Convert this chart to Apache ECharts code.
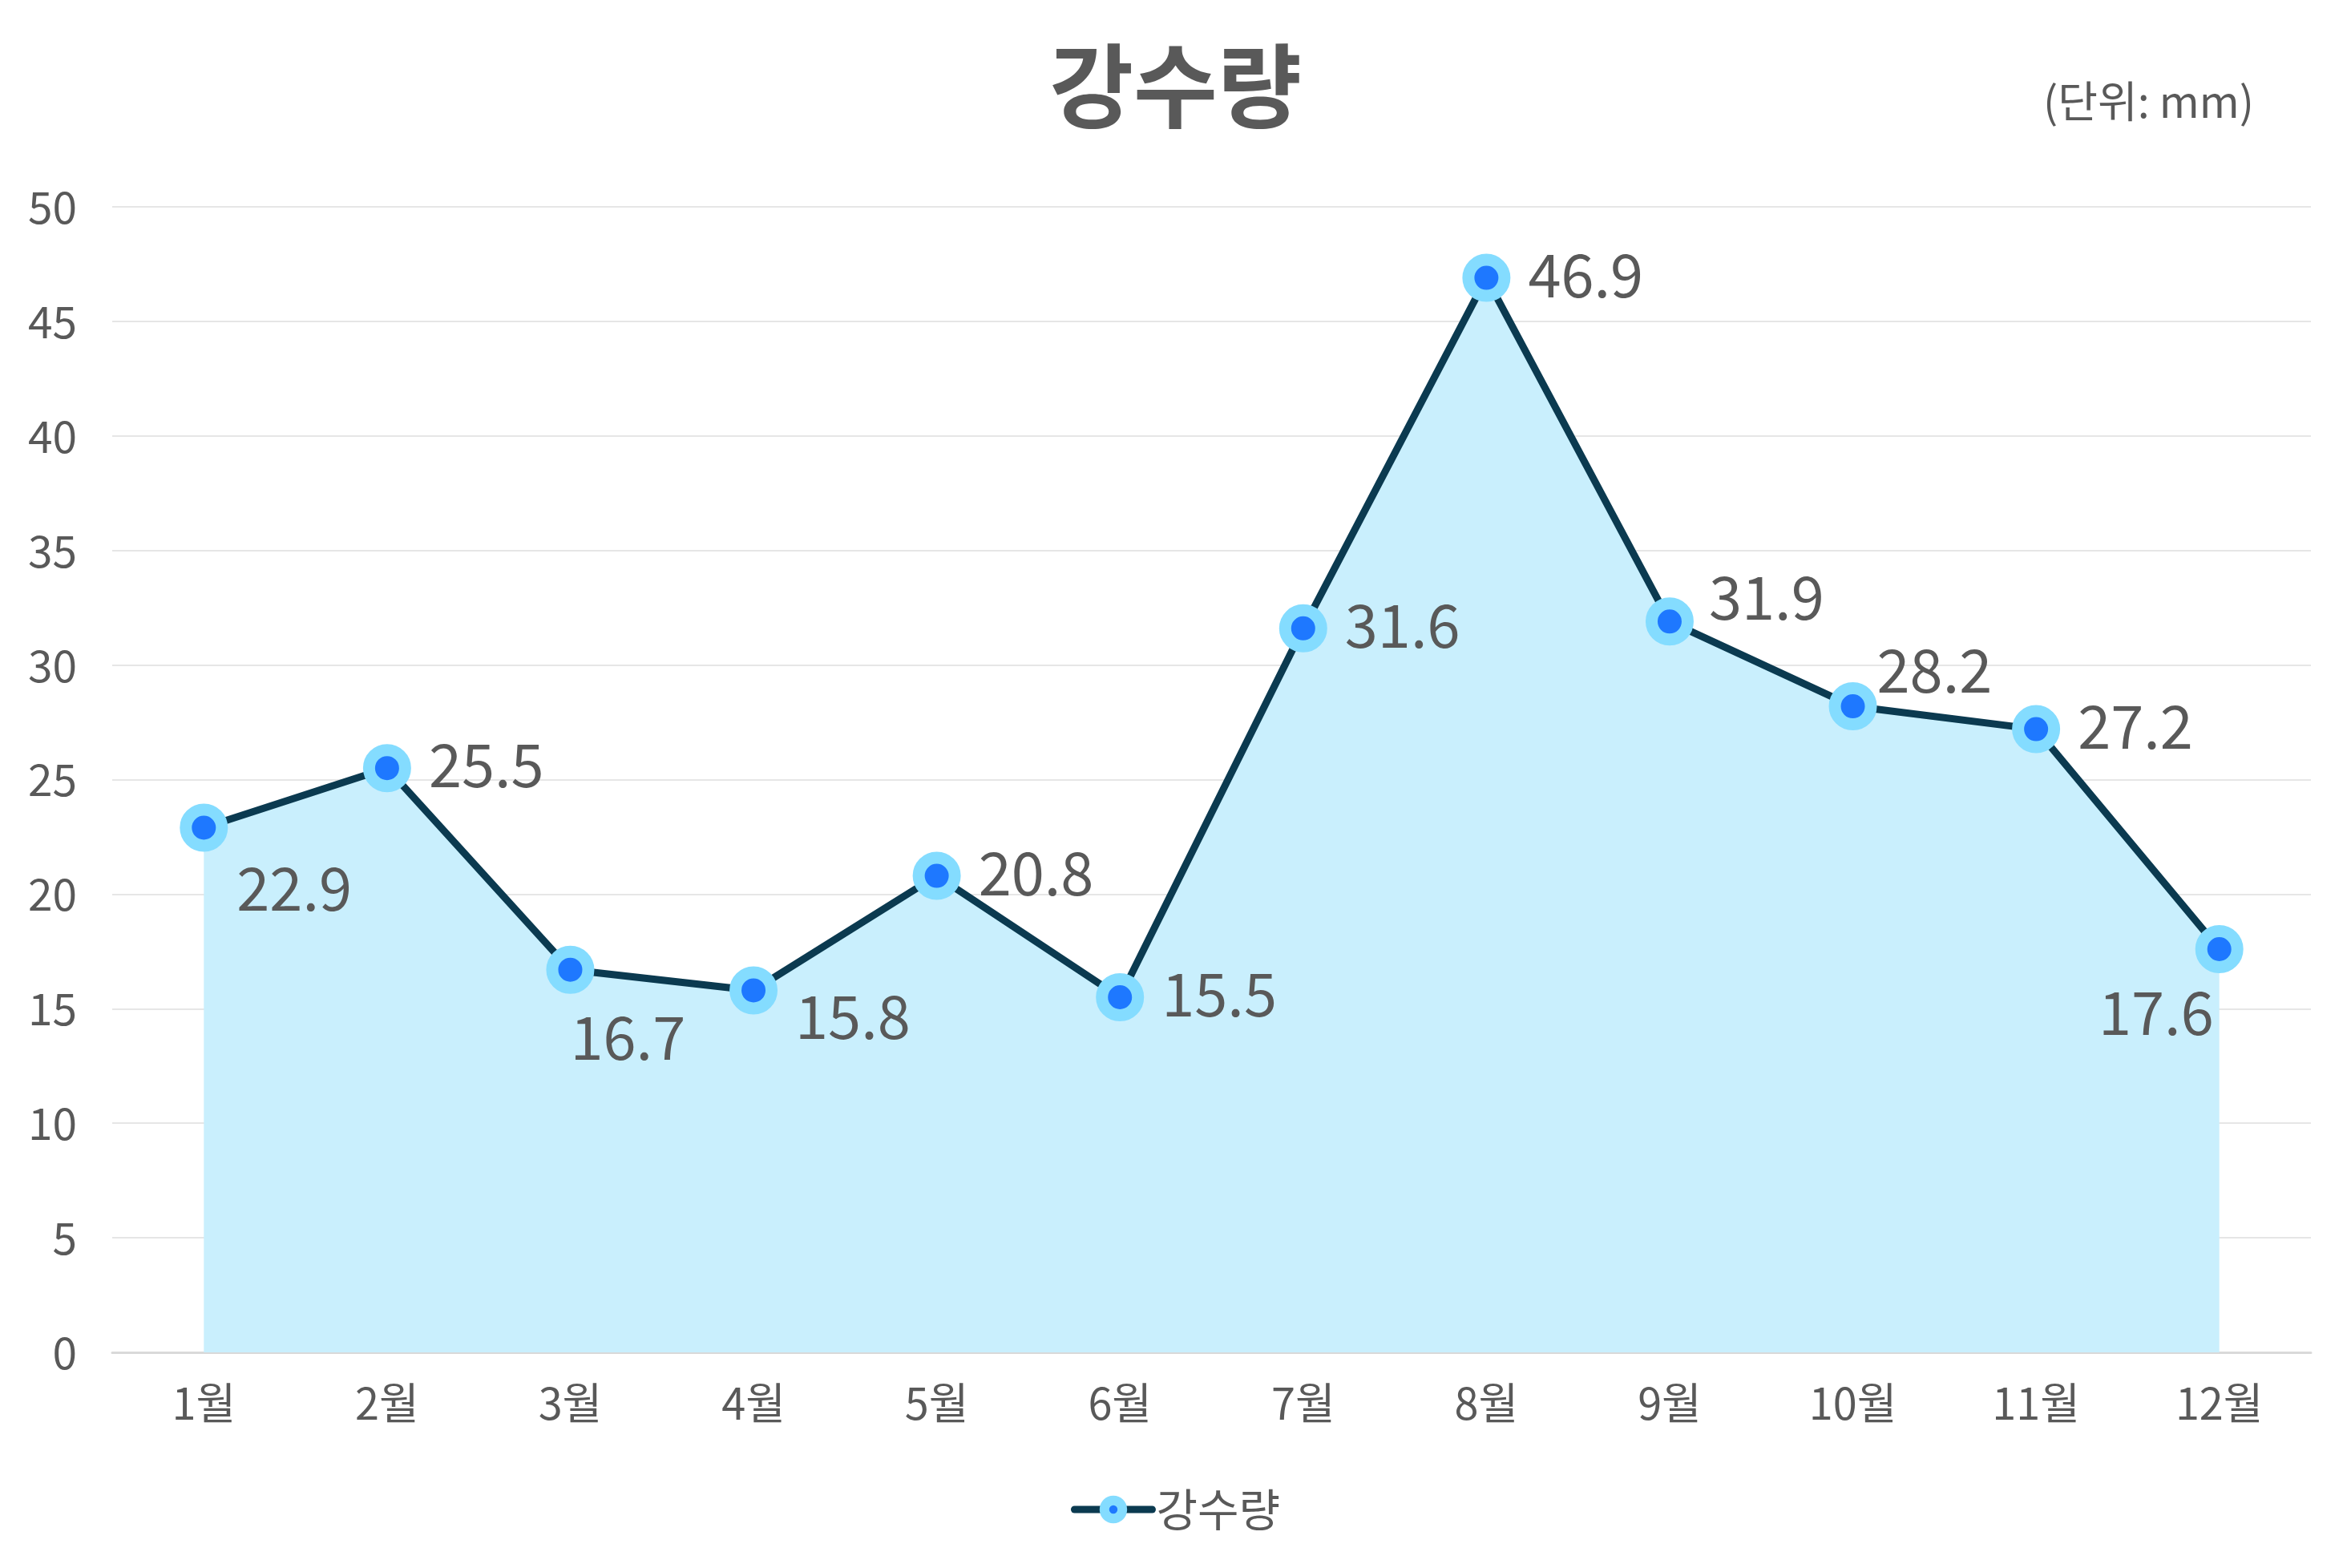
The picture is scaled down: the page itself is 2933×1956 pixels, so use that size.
<!DOCTYPE html>
<html>
<head>
<meta charset="utf-8">
<script src="https://cdn.jsdelivr.net/npm/echarts@6/dist/echarts.min.js"></script>
<style>
  html, body { margin: 0; padding: 0; background: #fff; }
  #chart { width: 2933px; height: 1956px; }
</style>
</head>
<body>
<div id="chart"></div>
<script>
// 데이터
const months = ['1월', '2월', '3월', '4월', '5월', '6월', '7월', '8월', '9월', '10월', '11월', '12월']
const rainfall = [22.9, 25.5, 16.7, 15.8, 20.8, 15.5, 31.6, 46.9, 31.9, 28.2, 27.2, 17.6]
const seriesName = '강수량'
const titleText = '강수량'
const unitText = '(단위: mm)'

const font = 'Noto Sans CJK KR'
const textColor = '#595959'

// 라벨 위치 (기본: 오른쪽)
const labelTweaks = {
  0: { offset: [-11, 75] },
  2: { offset: [-52, 84] },
  3: { offset: [0, 32] },
  8: { offset: [-3, -30] },
  9: { offset: [-22, -45] },
  11: { position: 'left', offset: [45, 79] }
}

const chart = echarts.init(document.getElementById('chart'))

const seriesData = rainfall.map((v, i) => {
  const item = { value: v }
  if (labelTweaks[i]) {
    item.label = labelTweaks[i]
  }
  return item
})

chart.setOption({
  backgroundColor: '#ffffff',
  animation: false,
  textStyle: { fontFamily: font },
  title: [
    {
      text: titleText,
      left: 'center',
      top: 45,
      textStyle: { fontFamily: font, fontSize: 114, fontWeight: 'bold', color: textColor }
    },
    {
      text: unitText,
      right: 116,
      top: 94,
      textStyle: { fontFamily: font, fontSize: 54, fontWeight: 'normal', color: textColor }
    }
  ],
  legend: {
    data: [seriesName],
    left: 'center',
    top: 1850,
    itemWidth: 97,
    itemHeight: 28,
    itemGap: 10,
    textStyle: { fontFamily: font, fontSize: 56, color: textColor },
    itemStyle: { borderWidth: 12 },
    lineStyle: { width: 9, color: '#0b3a50', cap: 'round' }
  },
  grid: {
    left: 140,
    right: 50,
    top: 258,
    bottom: 269,
    containLabel: false
  },
  xAxis: {
    type: 'category',
    data: months,
    boundaryGap: true,
    axisLine: { lineStyle: { color: '#d9d9d9', width: 3 } },
    axisTick: { show: false },
    axisLabel: { fontFamily: font, fontSize: 54, color: textColor, margin: 36 }
  },
  yAxis: {
    type: 'value',
    min: 0,
    max: 50,
    interval: 5,
    axisLine: { show: false },
    axisTick: { show: false },
    splitLine: { lineStyle: { color: '#e6e6e6', width: 2 } },
    axisLabel: { fontFamily: font, fontSize: 55, color: textColor, margin: 44 }
  },
  series: [
    {
      name: seriesName,
      type: 'line',
      data: seriesData,
      symbol: 'circle',
      symbolSize: 45,
      lineStyle: { color: '#0b3a50', width: 9 },
      itemStyle: { color: '#1e78ff', borderColor: '#84dcff', borderWidth: 15 },
      areaStyle: { color: '#c9effd', opacity: 1 },
      label: {
        show: true,
        position: 'right',
        distance: 22,
        offset: [0, -4],
        fontFamily: font,
        fontSize: 74,
        color: textColor
      },
      z: 3
    }
  ]
})
</script>
</body>
</html>
